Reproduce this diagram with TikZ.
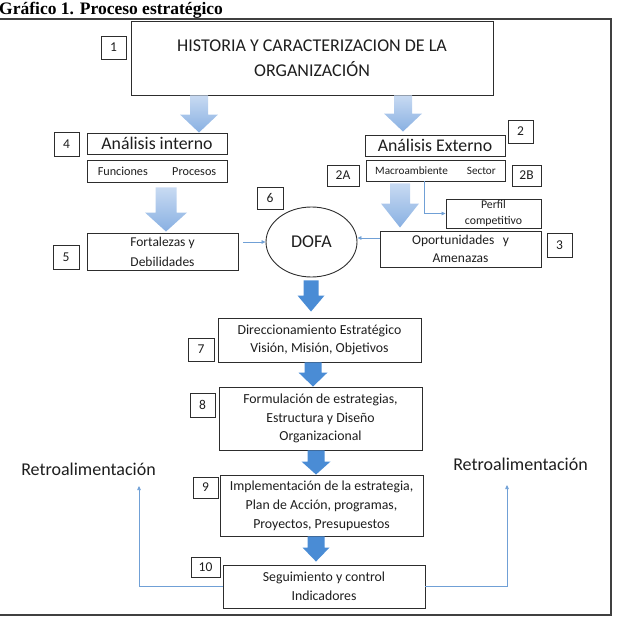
\documentclass[tikz,border=0pt]{standalone}
\usepackage{fontspec}
\setmainfont{Carlito}
\newfontfamily\titlefont{Liberation Serif}
\usetikzlibrary{arrows.meta,shapes.geometric,calc}
\definecolor{lightA}{RGB}{200,218,242}
\definecolor{lightB}{RGB}{136,176,226}
\definecolor{darkA}{RGB}{74,140,213}
\definecolor{thinC}{RGB}{112,160,214}
\definecolor{boxC}{RGB}{45,45,45}
\definecolor{txtC}{RGB}{30,30,30}
% #1 style, #2 centre x, #3 start, #4 tip, #5 shaft half width, #6 head half width, #7 head length
\newcommand\blockarrow[7]{%
  \path[#1] let \p1=(#3), \p2=(#4) in
    ({(#2-#5)*1pt},\y1) -- ({(#2+#5)*1pt},\y1) -- ({(#2+#5)*1pt},{\y2+#7pt})
    -- ({(#2+#6)*1pt},{\y2+#7pt}) -- ({#2*1pt},\y2) -- ({(#2-#6)*1pt},{\y2+#7pt})
    -- ({(#2-#5)*1pt},{\y2+#7pt}) -- cycle;}
\tikzset{
  box/.style={draw=boxC, line width=0.9pt, inner sep=0pt, align=center, text=txtC, fill=white},
  numbox/.style={draw=boxC, line width=0.8pt, inner sep=0pt, text=txtC, font=\fontsize{13.5}{15}\selectfont},
  lightarrow/.style={top color=lightA, bottom color=lightB, draw=none},
  darkarrow/.style={fill=darkA, draw=none},
  thin/.style={draw=thinC, line width=0.7pt, -{Triangle[length=4pt,width=3.5pt]}},
}
\begin{document}
\begin{tikzpicture}[x=1pt,y=-1pt]
\useasboundingbox (0,0) rectangle (617,620);
% title and frame
\node[anchor=base west, inner sep=0pt, font=\titlefont\bfseries\fontsize{17.5}{20}\selectfont] (title) at (-1,15) {Gráfico 1. Proceso estratégico};
\draw[line width=1.2pt, draw=black!75] (-2,19) -- (611,19) -- (611,615) -- (-2,615);

% boxes
\node[box, minimum width=362, minimum height=74, font=\fontsize{18}{25}\selectfont] (hist) at (312,58) {HISTORIA Y CARACTERIZACION DE LA\\ORGANIZACIÓN};
\node[numbox, minimum width=25, minimum height=23] (n1) at (113.5,47.5) {1};

\node[box, minimum width=140, minimum height=21, font=\fontsize{17.8}{20}\selectfont] (ain) at (157,143.5) {Análisis interno};
\node[box, minimum width=140, minimum height=22, font=\fontsize{12.2}{14}\selectfont] (fun) at (157,171) {Funciones\hspace{2em}Procesos};
\node[numbox, minimum width=25, minimum height=24] (n4) at (66.5,144) {4};
\node[box, minimum width=151, minimum height=37, font=\fontsize{13.5}{20}\selectfont] (fort) at (162.5,251.5) {Fortalezas y\\Debilidades};
\node[numbox, minimum width=26, minimum height=24] (n5) at (66,257) {5};

\node[numbox, minimum width=26, minimum height=22] (n6) at (270,198) {6};
\node[draw=boxC, line width=0.9pt, ellipse, minimum width=91, minimum height=70, inner sep=0pt, text=txtC, font=\fontsize{18}{20}\selectfont] (dofa) at (311.5,242) {DOFA};

\node[box, minimum width=140, minimum height=21, font=\fontsize{17.8}{20}\selectfont] (aex) at (435,145.5) {Análisis Externo};
\node[numbox, minimum width=25, minimum height=23] (n2) at (520.5,131.5) {2};
\node[box, minimum width=139, minimum height=21, font=\fontsize{11.2}{13}\selectfont] (mac) at (435.5,170.5) {Macroambiente\hspace{1.7em}Sector};
\node[numbox, minimum width=32, minimum height=21] (n2a) at (343,175.5) {2A};
\node[numbox, minimum width=29, minimum height=21] (n2b) at (526.5,175.5) {2B};
\node[box, minimum width=95, minimum height=29, font=\fontsize{11.8}{16}\selectfont] (perf) at (493.5,213.5) {Perfil\\competitivo};
\node[box, minimum width=161, minimum height=36, font=\fontsize{13.5}{18}\selectfont] (opo) at (460.5,249) {Oportunidades\hspace{0.4em} y\\Amenazas};
\node[numbox, minimum width=25, minimum height=24] (n3) at (559.5,245) {3};

\node[box, minimum width=203, minimum height=44, font=\fontsize{13.8}{18.5}\selectfont] (dir) at (319.5,340) {Direccionamiento Estratégico\\Visión, Misión, Objetivos};
\node[numbox, minimum width=26, minimum height=23] (n7) at (201,349.5) {7};
\node[box, minimum width=203, minimum height=63, font=\fontsize{13.8}{18.5}\selectfont] (form) at (320.5,418.5) {Formulación de estrategias,\\Estructura y Diseño\\Organizacional};
\node[numbox, minimum width=25, minimum height=24] (n8) at (202.5,405) {8};
\node[box, minimum width=203, minimum height=61, font=\fontsize{13.8}{19}\selectfont] (impl) at (321.5,505.5) {Implementación de la estrategia,\\Plan de Acción, programas,\\Proyectos, Presupuestos};
\node[numbox, minimum width=25, minimum height=21] (n9) at (205.5,487.5) {9};
\node[box, minimum width=202, minimum height=43, font=\fontsize{13.8}{19}\selectfont] (seg) at (324,586.5) {Seguimiento y control\\Indicadores};
\node[numbox, minimum width=29, minimum height=20] (n10) at (205.5,567) {10};

\node[inner sep=0pt, text=txtC, font=\fontsize{18}{20}\selectfont] (retL) at (88.5,469) {Retroalimentación};
\node[inner sep=0pt, text=txtC, font=\fontsize{18}{20}\selectfont] (retR) at (520.5,464) {Retroalimentación};
\coordinate (fbL) at (139,486);
\coordinate (fbR) at (507,485);

% block arrows
\blockarrow{lightarrow}{199}{hist.south}{ain.north}{9}{19}{18}
\blockarrow{lightarrow}{403}{hist.south}{$(aex.north)+(0,-3)$}{9}{19}{18}
\blockarrow{lightarrow}{166}{$(fun.south)+(0,5)$}{$(fort.north)+(0,-1)$}{10.5}{21}{19}
\blockarrow{lightarrow}{400}{$(mac.south)+(0,2)$}{$(opo.north)+(0,-3)$}{10}{19}{24}
\blockarrow{darkarrow}{311}{$(dofa.south)+(0,3)$}{$(dir.north)+(0,-6)$}{7.5}{13.5}{16}
\blockarrow{darkarrow}{313}{dir.south}{form.north}{8.5}{14.5}{14}
\blockarrow{darkarrow}{316}{form.south}{impl.north}{8.5}{14.5}{13}
\blockarrow{darkarrow}{316}{impl.south}{$(seg.north)+(0,-3)$}{8.5}{13.5}{14}

% thin connectors
\draw[thin] ($(mac.south)+(-11,0)$) |- (perf.west);
\draw[thin] ($(dofa.west -| fort.east)+(5,0)$) -- (dofa.west);
\draw[thin] ($(dofa.east -| opo.west)+(0,-4)$) -- ($(dofa.east)+(0,-4)$);
\draw[thin] (seg.west) -| (fbL);
\draw[thin] (seg.east) -| (fbR);
\end{tikzpicture}
\end{document}
